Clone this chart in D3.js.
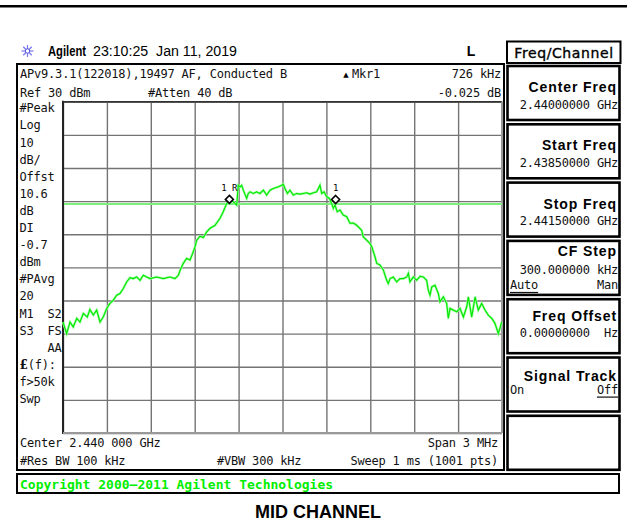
<!DOCTYPE html>
<html lang="en">
<head>
<meta charset="UTF-8">
<title>MID CHANNEL</title>
<style>
    body { margin: 0; background: #fff; }
    .mono { font-family: "DejaVu Sans Mono", monospace; font-size: 12px; letter-spacing: -0.2px; fill: #111; }
    .key { font-family: "Liberation Sans", Arial, sans-serif; font-weight: bold; font-size: 14px; letter-spacing: 0.9px; fill: #000; }
</style>
</head>
<body>
<div id="chart-container"></div>
<script src="https://d3js.org/d3.v7.min.js"></script>
<script>
    // trace: offset from centre (MHz) and level (dBm)
    const traceFreqMHz = [
        -1.500, -1.475, -1.452, -1.430, -1.406, -1.384, -1.361, -1.334, -1.316, -1.293,
        -1.270, -1.247, -1.225, -1.201, -1.179, -1.156, -1.133, -1.111, -1.088, -1.065,
        -1.042, -1.020, -0.996, -0.974, -0.951, -0.928, -0.905, -0.860, -0.815, -0.769,
        -0.735, -0.712, -0.700, -0.678, -0.655, -0.632, -0.614, -0.598, -0.586, -0.564,
        -0.541, -0.518, -0.495, -0.461, -0.427, -0.405, -0.381, -0.359, -0.336, -0.313,
        -0.302, -0.290, -0.279, -0.268, -0.245, -0.234, -0.222, -0.200, -0.176, -0.154,
        -0.131, -0.108, -0.085, -0.063, -0.029, -0.005, 0.005, 0.017, 0.033, 0.051,
        0.074, 0.097, 0.120, 0.142, 0.165, 0.188, 0.210, 0.234, 0.256, 0.268,
        0.284, 0.302, 0.320, 0.336, 0.347, 0.359, 0.374, 0.393, 0.415, 0.439,
        0.461, 0.484, 0.507, 0.541, 0.552, 0.575, 0.598, 0.610, 0.632, 0.644,
        0.666, 0.689, 0.712, 0.723, 0.735, 0.757, 0.780, 0.803, 0.826, 0.849,
        0.860, 0.871, 0.894, 0.917, 0.940, 0.962, 0.985, 0.996, 1.008, 1.020,
        1.042, 1.065, 1.076, 1.099, 1.122, 1.133, 1.145, 1.167, 1.190, 1.213,
        1.236, 1.259, 1.270, 1.293, 1.316, 1.338, 1.361, 1.384, 1.406, 1.430,
        1.452, 1.475, 1.498
    ];
    const traceLevelDbm = [
        -36.5, -40.0, -36.5, -38.0, -35.4, -36.5, -33.9, -35.0, -32.7, -34.4,
        -32.9, -36.5, -35.0, -32.4, -30.9, -29.9, -28.4, -27.9, -26.4, -24.4,
        -23.1, -23.4, -22.9, -23.9, -22.4, -22.9, -23.4, -22.9, -23.4, -22.9,
        -23.4, -22.4, -20.9, -18.8, -17.3, -17.8, -15.8, -13.8, -11.8, -10.6,
        -11.0, -9.3, -8.2, -7.3, -5.2, -3.2, -0.7, 0.3, -0.2, -1.2,
        4.8, 4.3, 4.8, 3.3, 0.8, 2.3, 2.8, 2.3, 2.8, 2.3,
        3.3, 1.8, 3.3, 3.8, 4.3, 4.8, 5.1, 3.8, 2.3, 3.3,
        1.8, 2.3, 2.1, 2.3, 2.5, 2.1, 2.5, 2.8, 4.8, 2.3,
        2.8, 1.3, 0.8, -0.7, -2.2, -1.2, -3.2, -2.7, -4.2, -4.7,
        -6.7, -6.6, -7.3, -8.8, -10.8, -11.8, -12.8, -13.8, -16.8, -18.8,
        -19.3, -20.8, -23.9, -24.9, -23.4, -22.9, -24.4, -23.4, -23.4, -22.9,
        -21.8, -24.4, -22.9, -23.9, -22.7, -22.9, -23.9, -26.9, -28.4, -25.9,
        -25.4, -27.9, -30.4, -28.9, -30.9, -35.4, -32.4, -32.9, -33.4, -32.4,
        -35.0, -31.9, -28.9, -35.0, -28.9, -32.9, -30.9, -32.9, -34.4, -35.4,
        -36.9, -40.0, -36.5
    ];

    const markerFreqMHz = [-0.363, 0.363];
    const markerLevelDbm = [0.5, 0.48];
    const markerNames = ["1 R", "1"];
    const displayLineDbm = -0.7;

    const spanMHz = 3;
    const refLevelDbm = 30;
    const dbPerDiv = 10;
    const xGridMHz = d3.range(-1.5, 1.5001, 0.3);
    const yGridDbm = d3.range(-70, 30.001, 10);

    const leftLabels = ["#Peak", "Log", "10", "dB/", "Offst", "10.6", "dB", "DI", "-0.7", "dBm",
        "#PAvg", "20", "M1  S2", "S3  FS", "    AA", "£(f):", "f>50k", "Swp"];

    const softkeys = [
        {title: "Center Freq", value: "2.44000000 GHz"},
        {title: "Start Freq", value: "2.43850000 GHz"},
        {title: "Stop Freq", value: "2.44150000 GHz"},
        {title: "CF Step", value: "300.000000 kHz", left: "Auto", right: "Man", under: "left"},
        {title: "Freq Offset", value: "0.00000000  Hz"},
        {title: "Signal Track", left: "On", right: "Off", under: "right"},
        {title: ""}
    ];

    const W = 627, H = 527;
    const PLOT = {LEFT: 63, RIGHT: 502, TOP: 101.7, BOTTOM: 433};

    const svg = d3.select("#chart-container").append("svg")
        .attr("width", W).attr("height", H);

    // top rule
    svg.append("rect").attr("x", 0).attr("y", 5).attr("width", W).attr("height", 2.5).attr("fill", "#000");

    // header: logo, name, time
    const logo = svg.append("g").attr("transform", "translate(27.5,51)");
    [0, 45, 90, 135].forEach(a => {
        logo.append("line").attr("x1", -6).attr("x2", 6).attr("y1", 0).attr("y2", 0)
            .attr("transform", `rotate(${a})`).attr("stroke", "#7777ee").attr("stroke-width", 1.2);
    });
    logo.append("circle").attr("r", 2.2).attr("fill", "#fff").attr("stroke", "#5555dd").attr("stroke-width", 1);

    svg.append("text").attr("x", 48).attr("y", 51).attr("dominant-baseline", "central")
        .attr("font-family", "Liberation Sans, Arial, sans-serif").attr("font-weight", "bold")
        .attr("font-size", 14).attr("textLength", 38).attr("lengthAdjust", "spacingAndGlyphs")
        .text("Agilent");
    svg.append("text").attr("x", 93).attr("y", 51).attr("dominant-baseline", "central")
        .attr("font-family", "Liberation Sans, Arial, sans-serif").attr("font-size", 14)
        .attr("textLength", 144).attr("lengthAdjust", "spacingAndGlyphs").attr("xml:space", "preserve")
        .text("23:10:25  Jan 11, 2019");
    svg.append("text").attr("x", 471).attr("y", 51).attr("dominant-baseline", "central").attr("text-anchor", "middle")
        .attr("font-family", "Liberation Sans, Arial, sans-serif").attr("font-weight", "bold").attr("font-size", 14)
        .text("L");

    // main screen frame
    svg.append("rect").attr("x", 17).attr("y", 64).attr("width", 487).attr("height", 406)
        .attr("fill", "none").attr("stroke", "#000").attr("stroke-width", 2);

    const mono = (x, y, t, anchor) => svg.append("text").attr("class", "mono")
        .attr("x", x).attr("y", y).attr("dominant-baseline", "central")
        .attr("text-anchor", anchor || "start").attr("xml:space", "preserve").text(t);

    mono(20, 74, "APv9.3.1(122018),19497 AF, Conducted B");
    mono(20, 92.5, "Ref 30 dBm");
    mono(148, 92.5, "#Atten 40 dB");
    svg.append("text").attr("x", 346).attr("y", 74.5).attr("dominant-baseline", "central").attr("text-anchor", "middle")
        .attr("font-family", "DejaVu Sans").attr("font-size", 7).text("▲");
    mono(352, 74, "Mkr1");
    mono(501, 74, "726 kHz", "end");
    mono(501, 92.5, "-0.025 dB", "end");

    leftLabels.forEach((t, i) => {
        const el = mono(19.5, 108.3 + i * 17.1, "");
        if (t.startsWith("£")) {
            el.append("tspan").attr("font-weight", "bold").attr("font-family", "DejaVu Serif").text("£");
            el.append("tspan").text(t.slice(1));
        } else {
            el.text(t);
        }
    });

    mono(20, 442.7, "Center 2.440 000 GHz");
    mono(20, 460.7, "#Res BW 100 kHz");
    mono(217, 460.7, "#VBW 300 kHz");
    mono(498, 442.7, "Span 3 MHz", "end");
    mono(498, 460.7, "Sweep 1 ms (1001 pts)", "end");

    // plot
    const x = d3.scaleLinear().domain([-spanMHz / 2, spanMHz / 2]).range([PLOT.LEFT, PLOT.RIGHT]);
    const y = d3.scaleLinear().domain([refLevelDbm - 10 * dbPerDiv, refLevelDbm]).range([PLOT.BOTTOM, PLOT.TOP]);

    const g = svg.append("g");
    g.append("rect").attr("x", PLOT.LEFT).attr("y", PLOT.TOP)
        .attr("width", PLOT.RIGHT - PLOT.LEFT).attr("height", PLOT.BOTTOM - PLOT.TOP).attr("fill", "#fff");

    g.append("g").attr("class", "grid")
        .attr("transform", `translate(0, ${PLOT.BOTTOM})`)
        .call(d3.axisBottom(x).tickValues(xGridMHz).tickSize(-(PLOT.BOTTOM - PLOT.TOP)).tickFormat(""));
    g.append("g").attr("class", "grid")
        .attr("transform", `translate(${PLOT.LEFT}, 0)`)
        .call(d3.axisLeft(y).tickValues(yGridDbm).tickSize(-(PLOT.RIGHT - PLOT.LEFT)).tickFormat(""));
    g.selectAll(".grid .domain").remove();
    g.selectAll(".grid line").attr("stroke", "#747474").attr("stroke-width", 1.4);

    // frame edges of graticule
    g.append("line").attr("x1", PLOT.LEFT).attr("x2", PLOT.LEFT).attr("y1", PLOT.TOP - 1).attr("y2", PLOT.BOTTOM + 1)
        .attr("stroke", "#222").attr("stroke-width", 2);
    g.append("line").attr("x1", PLOT.LEFT).attr("x2", PLOT.RIGHT).attr("y1", PLOT.TOP).attr("y2", PLOT.TOP)
        .attr("stroke", "#333").attr("stroke-width", 1.6);
    g.append("line").attr("x1", PLOT.RIGHT).attr("x2", PLOT.RIGHT).attr("y1", PLOT.TOP).attr("y2", PLOT.BOTTOM)
        .attr("stroke", "#999").attr("stroke-width", 2);
    g.append("line").attr("x1", PLOT.LEFT).attr("x2", PLOT.RIGHT).attr("y1", PLOT.BOTTOM).attr("y2", PLOT.BOTTOM)
        .attr("stroke", "#999").attr("stroke-width", 2);

    // display line
    g.append("line").attr("x1", PLOT.LEFT + 1).attr("x2", PLOT.RIGHT)
        .attr("y1", y(displayLineDbm) + 0.5).attr("y2", y(displayLineDbm) + 0.5)
        .attr("stroke", "#7cf07c").attr("stroke-width", 2);

    // trace
    const trace = traceFreqMHz.map((f, i) => ({f: f, v: traceLevelDbm[i]}));
    g.append("path").datum(trace)
        .attr("fill", "none").attr("stroke", "#9dff9d").attr("stroke-width", 2.4)
        .attr("d", d3.line().x(d => x(d.f)).y(d => y(d.v)));
    g.append("path").datum(trace)
        .attr("fill", "none").attr("stroke", "#00e600").attr("stroke-width", 1.1)
        .attr("d", d3.line().x(d => x(d.f)).y(d => y(d.v)));

    // markers
    markerFreqMHz.forEach((f, i) => {
        const cx = x(f), cy = y(markerLevelDbm[i]);
        g.append("path").attr("d", `M${cx},${cy - 4}L${cx + 4},${cy}L${cx},${cy + 4}L${cx - 4},${cy}Z`)
            .attr("fill", "#fff").attr("stroke", "#000").attr("stroke-width", 1.6);
        g.append("text").attr("x", cx).attr("y", cy - 11).attr("text-anchor", "middle")
            .attr("dominant-baseline", "central").attr("xml:space", "preserve")
            .attr("font-family", "DejaVu Sans Mono").attr("font-size", 9).attr("fill", "#000")
            .text(markerNames[i]);
    });

    // softkey panel
    svg.append("rect").attr("x", 507).attr("y", 41.5).attr("width", 113.5).attr("height", 21.5)
        .attr("fill", "#fff").attr("stroke", "#000").attr("stroke-width", 2);
    svg.append("text").attr("x", 564).attr("y", 52.5).attr("text-anchor", "middle").attr("dominant-baseline", "central")
        .attr("font-family", "DejaVu Sans, sans-serif").attr("font-size", 14).attr("letter-spacing", 0.6)
        .attr("stroke", "#000").attr("stroke-width", 0.35).text("Freq/Channel");

    const keyTop = 66, keyPitch = 58.3, keyH = 54;
    softkeys.forEach((k, i) => {
        const top = keyTop + i * keyPitch;
        svg.append("rect").attr("x", 507.5).attr("y", top).attr("width", 112).attr("height", keyH)
            .attr("fill", "#fff").attr("stroke", "#000").attr("stroke-width", 2.6);
        let ty = top + 21, vy = top + 38.5, sy = top + 44;
        if (k.left && k.value) { ty = top + 10; vy = top + 29; }
        else if (k.left) { ty = top + 18.5; sy = top + 32; }
        else if (k.title === "Freq Offset") { ty = top + 17; vy = top + 34; }
        if (k.title) {
            svg.append("text").attr("class", "key").attr("x", 617).attr("y", ty)
                .attr("text-anchor", "end").attr("dominant-baseline", "central").text(k.title);
        }
        if (k.value) {
            svg.append("text").attr("class", "mono").attr("x", 618).attr("y", vy).attr("letter-spacing", 0.1)
                .attr("text-anchor", "end").attr("dominant-baseline", "central").attr("xml:space", "preserve")
                .text(k.value);
        }
        if (k.left) {
            svg.append("text").attr("class", "mono").attr("x", 510).attr("y", sy)
                .attr("dominant-baseline", "central")
                .attr("text-decoration", k.under === "left" ? "underline" : null).text(k.left);
            svg.append("text").attr("class", "mono").attr("x", 618).attr("y", sy).attr("text-anchor", "end")
                .attr("dominant-baseline", "central")
                .attr("text-decoration", k.under === "right" ? "underline" : null).text(k.right);
        }
    });

    // copyright bar
    svg.append("rect").attr("x", 17).attr("y", 474).attr("width", 602).attr("height", 19)
        .attr("fill", "#fff").attr("stroke", "#000").attr("stroke-width", 2);
    svg.append("text").attr("x", 20).attr("y", 484.5).attr("dominant-baseline", "central")
        .attr("font-family", "DejaVu Sans Mono, monospace").attr("font-weight", "bold").attr("font-size", 13)
        .attr("fill", "#00ee00").text("Copyright 2000–2011 Agilent Technologies");

    // caption
    svg.append("text").attr("x", 318).attr("y", 512).attr("text-anchor", "middle").attr("dominant-baseline", "central")
        .attr("font-family", "Liberation Sans, Arial, sans-serif").attr("font-weight", "bold").attr("font-size", 18)
        .text("MID CHANNEL");
</script>
</body>
</html>
